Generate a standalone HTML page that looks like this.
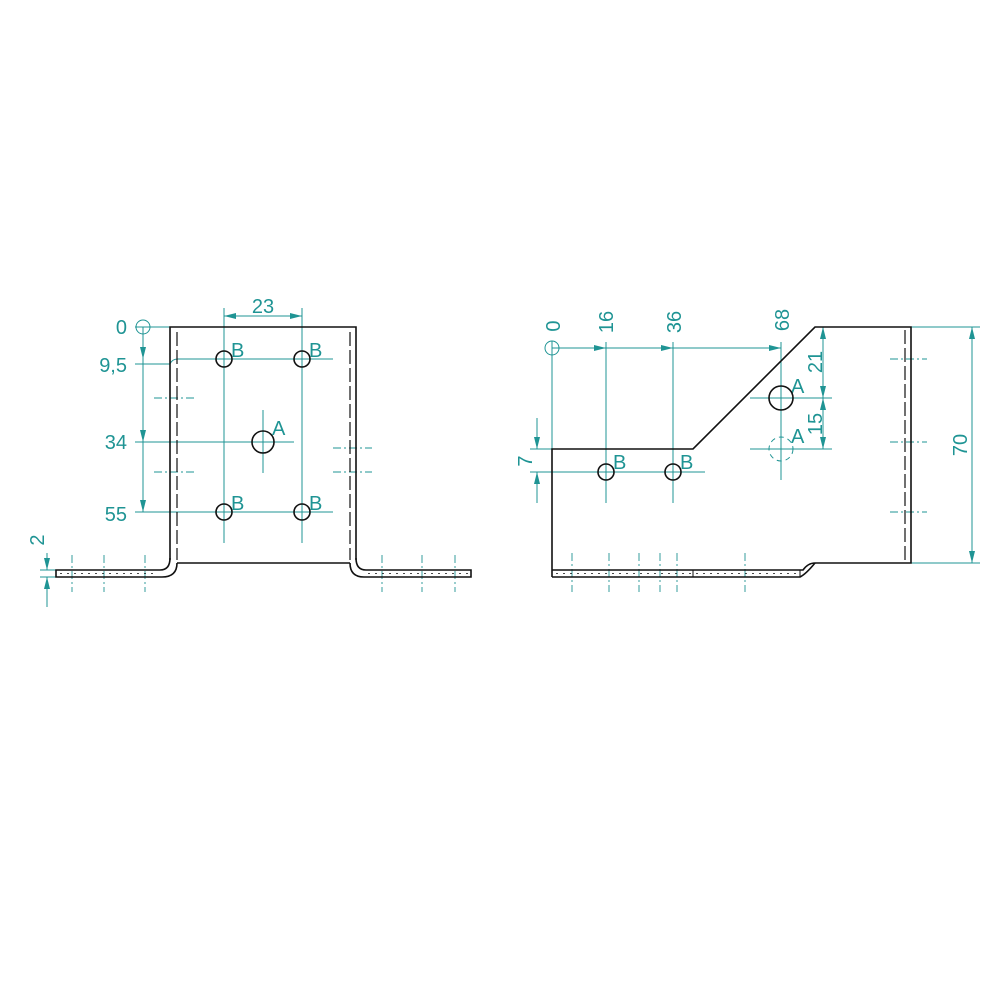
<!DOCTYPE html>
<html><head><meta charset="utf-8"><style>html,body{margin:0;padding:0;background:#fff}svg{display:block}</style></head><body>
<svg width="1000" height="1000" viewBox="0 0 1000 1000" xmlns="http://www.w3.org/2000/svg" font-family="Liberation Sans Narrow, Liberation Sans, sans-serif">
<defs>
<marker id="ar" viewBox="0 0 12 6" refX="12" refY="3" markerWidth="12" markerHeight="6" markerUnits="userSpaceOnUse" orient="auto-start-reverse"><path d="M0,0 L12,3 L0,6 z" fill="#1f9494"/></marker>
</defs>
<g stroke="#1f9494" stroke-width="1" fill="none">
<line x1="224" y1="308" x2="224" y2="543"/>
<line x1="302" y1="308" x2="302" y2="543"/>
<line x1="263" y1="410" x2="263" y2="473"/>
<line x1="135" y1="327" x2="170" y2="327"/>
<path d="M135,364 L170,364 Q172,359 178,359 L333,359"/>
<line x1="135" y1="442" x2="294" y2="442"/>
<line x1="135" y1="512" x2="333" y2="512"/>
<circle cx="143" cy="327" r="7"/>
<line x1="143" y1="327" x2="143" y2="359" marker-end="url(#ar)"/>
<line x1="143" y1="359" x2="143" y2="442" marker-end="url(#ar)"/>
<line x1="143" y1="442" x2="143" y2="512" marker-end="url(#ar)"/>
<line x1="224" y1="316" x2="302" y2="316" marker-start="url(#ar)" marker-end="url(#ar)"/>
<g stroke-dasharray="8,3,2,3" stroke-width="0.9">
<line x1="154" y1="398" x2="194" y2="398"/><line x1="154" y1="472" x2="194" y2="472"/>
<line x1="333" y1="448" x2="372" y2="448"/><line x1="333" y1="472" x2="372" y2="472"/>
<line x1="72" y1="555" x2="72" y2="592"/><line x1="104" y1="555" x2="104" y2="592"/><line x1="145" y1="555" x2="145" y2="592"/>
<line x1="382" y1="555" x2="382" y2="592"/><line x1="422" y1="555" x2="422" y2="592"/><line x1="455" y1="555" x2="455" y2="592"/>
</g>
<line x1="40" y1="570" x2="56" y2="570"/><line x1="40" y1="577" x2="56" y2="577"/>
<line x1="47" y1="553" x2="47" y2="570" marker-end="url(#ar)"/>
<line x1="47" y1="607" x2="47" y2="577" marker-end="url(#ar)"/>
<circle cx="552" cy="348" r="7"/>
<line x1="552" y1="341" x2="552" y2="449"/>
<line x1="606" y1="342" x2="606" y2="503"/>
<line x1="673" y1="342" x2="673" y2="503"/>
<line x1="781" y1="342" x2="781" y2="480"/>
<line x1="552" y1="348" x2="606" y2="348" marker-end="url(#ar)"/>
<line x1="606" y1="348" x2="673" y2="348" marker-end="url(#ar)"/>
<line x1="673" y1="348" x2="781" y2="348" marker-end="url(#ar)"/>
<line x1="530" y1="449" x2="552" y2="449"/>
<line x1="530" y1="472" x2="705" y2="472"/>
<line x1="750" y1="398" x2="832" y2="398"/>
<line x1="750" y1="449" x2="832" y2="449"/>
<line x1="911" y1="327" x2="980" y2="327"/>
<line x1="911" y1="563" x2="980" y2="563"/>
<line x1="537" y1="418" x2="537" y2="449" marker-end="url(#ar)"/>
<line x1="537" y1="503" x2="537" y2="472" marker-end="url(#ar)"/>
<line x1="823" y1="327" x2="823" y2="398" marker-start="url(#ar)" marker-end="url(#ar)"/>
<line x1="823" y1="398" x2="823" y2="449" marker-start="url(#ar)" marker-end="url(#ar)"/>
<line x1="972" y1="327" x2="972" y2="563" marker-start="url(#ar)" marker-end="url(#ar)"/>
<g stroke-dasharray="8,3,2,3" stroke-width="0.9">
<line x1="890" y1="359" x2="927" y2="359"/><line x1="890" y1="442" x2="927" y2="442"/><line x1="890" y1="512" x2="927" y2="512"/>
<line x1="572" y1="553" x2="572" y2="592"/><line x1="609" y1="553" x2="609" y2="592"/><line x1="639" y1="553" x2="639" y2="592"/>
<line x1="660" y1="553" x2="660" y2="592"/><line x1="677" y1="553" x2="677" y2="592"/><line x1="745" y1="553" x2="745" y2="592"/>
</g>
<circle cx="781" cy="449" r="12" stroke-dasharray="5,4"/>
</g>
<g fill="#1f9494" font-size="20">
<text x="263" y="313" text-anchor="middle">23</text>
<text x="127" y="334" text-anchor="end">0</text>
<text x="127" y="372" text-anchor="end">9,5</text>
<text x="127" y="449" text-anchor="end">34</text>
<text x="127" y="521" text-anchor="end">55</text>
<text transform="translate(44,540) rotate(-90)" text-anchor="middle">2</text>
<text x="231" y="357">B</text><text x="309" y="357">B</text>
<text x="231" y="510">B</text><text x="309" y="510">B</text>
<text x="272" y="435">A</text>
<text transform="translate(560,326) rotate(-90)" text-anchor="middle">0</text>
<text transform="translate(613,322) rotate(-90)" text-anchor="middle">16</text>
<text transform="translate(681,322) rotate(-90)" text-anchor="middle">36</text>
<text transform="translate(789,320) rotate(-90)" text-anchor="middle">68</text>
<text transform="translate(822,362) rotate(-90)" text-anchor="middle">21</text>
<text transform="translate(822,424) rotate(-90)" text-anchor="middle">15</text>
<text transform="translate(967,445) rotate(-90)" text-anchor="middle">70</text>
<text transform="translate(532,461) rotate(-90)" text-anchor="middle">7</text>
<text x="613" y="469">B</text><text x="680" y="469">B</text>
<text x="791" y="393">A</text><text x="791" y="443">A</text>
</g>
<g stroke="#111" stroke-width="1.6" fill="none">
<path d="M170,560 L170,327 L356,327 L356,560"/>
<line x1="177" y1="563" x2="350" y2="563"/>
<path d="M170,558 Q170,570 160,570 L56,570 L56,577 L162,577 Q177,577 177,563"/>
<path d="M356,558 Q356,570 366,570 L471,570 L471,577 L364,577 Q350,577 350,563"/>
<circle cx="224" cy="359" r="8"/><circle cx="302" cy="359" r="8"/>
<circle cx="224" cy="512" r="8"/><circle cx="302" cy="512" r="8"/>
<circle cx="263" cy="442" r="11"/>
<path d="M552,577 L552,449 L693,449 L815,327 L911,327 L911,563 L815,563 Q808,563 803,570 L552,570"/>
<path d="M552,577 L800,577 Q806,574 815,563"/>
<line x1="693" y1="570" x2="693" y2="577" stroke-width="1"/>
<line x1="800" y1="570" x2="800" y2="577" stroke-width="1"/>
<circle cx="606" cy="472" r="8"/><circle cx="673" cy="472" r="8"/>
<circle cx="781" cy="398" r="12"/>
</g>
<g stroke="#111" stroke-width="1.2" fill="none" stroke-dasharray="14,4">
<line x1="177" y1="332" x2="177" y2="560"/>
<line x1="350" y1="332" x2="350" y2="560"/>
<line x1="905" y1="330" x2="905" y2="560"/>
</g>
<g stroke="#111" stroke-width="0.8" fill="none" stroke-dasharray="2,5">
<line x1="60" y1="573.5" x2="158" y2="573.5"/>
<line x1="368" y1="573.5" x2="468" y2="573.5"/>
<line x1="556" y1="573.5" x2="798" y2="573.5"/>
</g>
</svg>
</body></html>
